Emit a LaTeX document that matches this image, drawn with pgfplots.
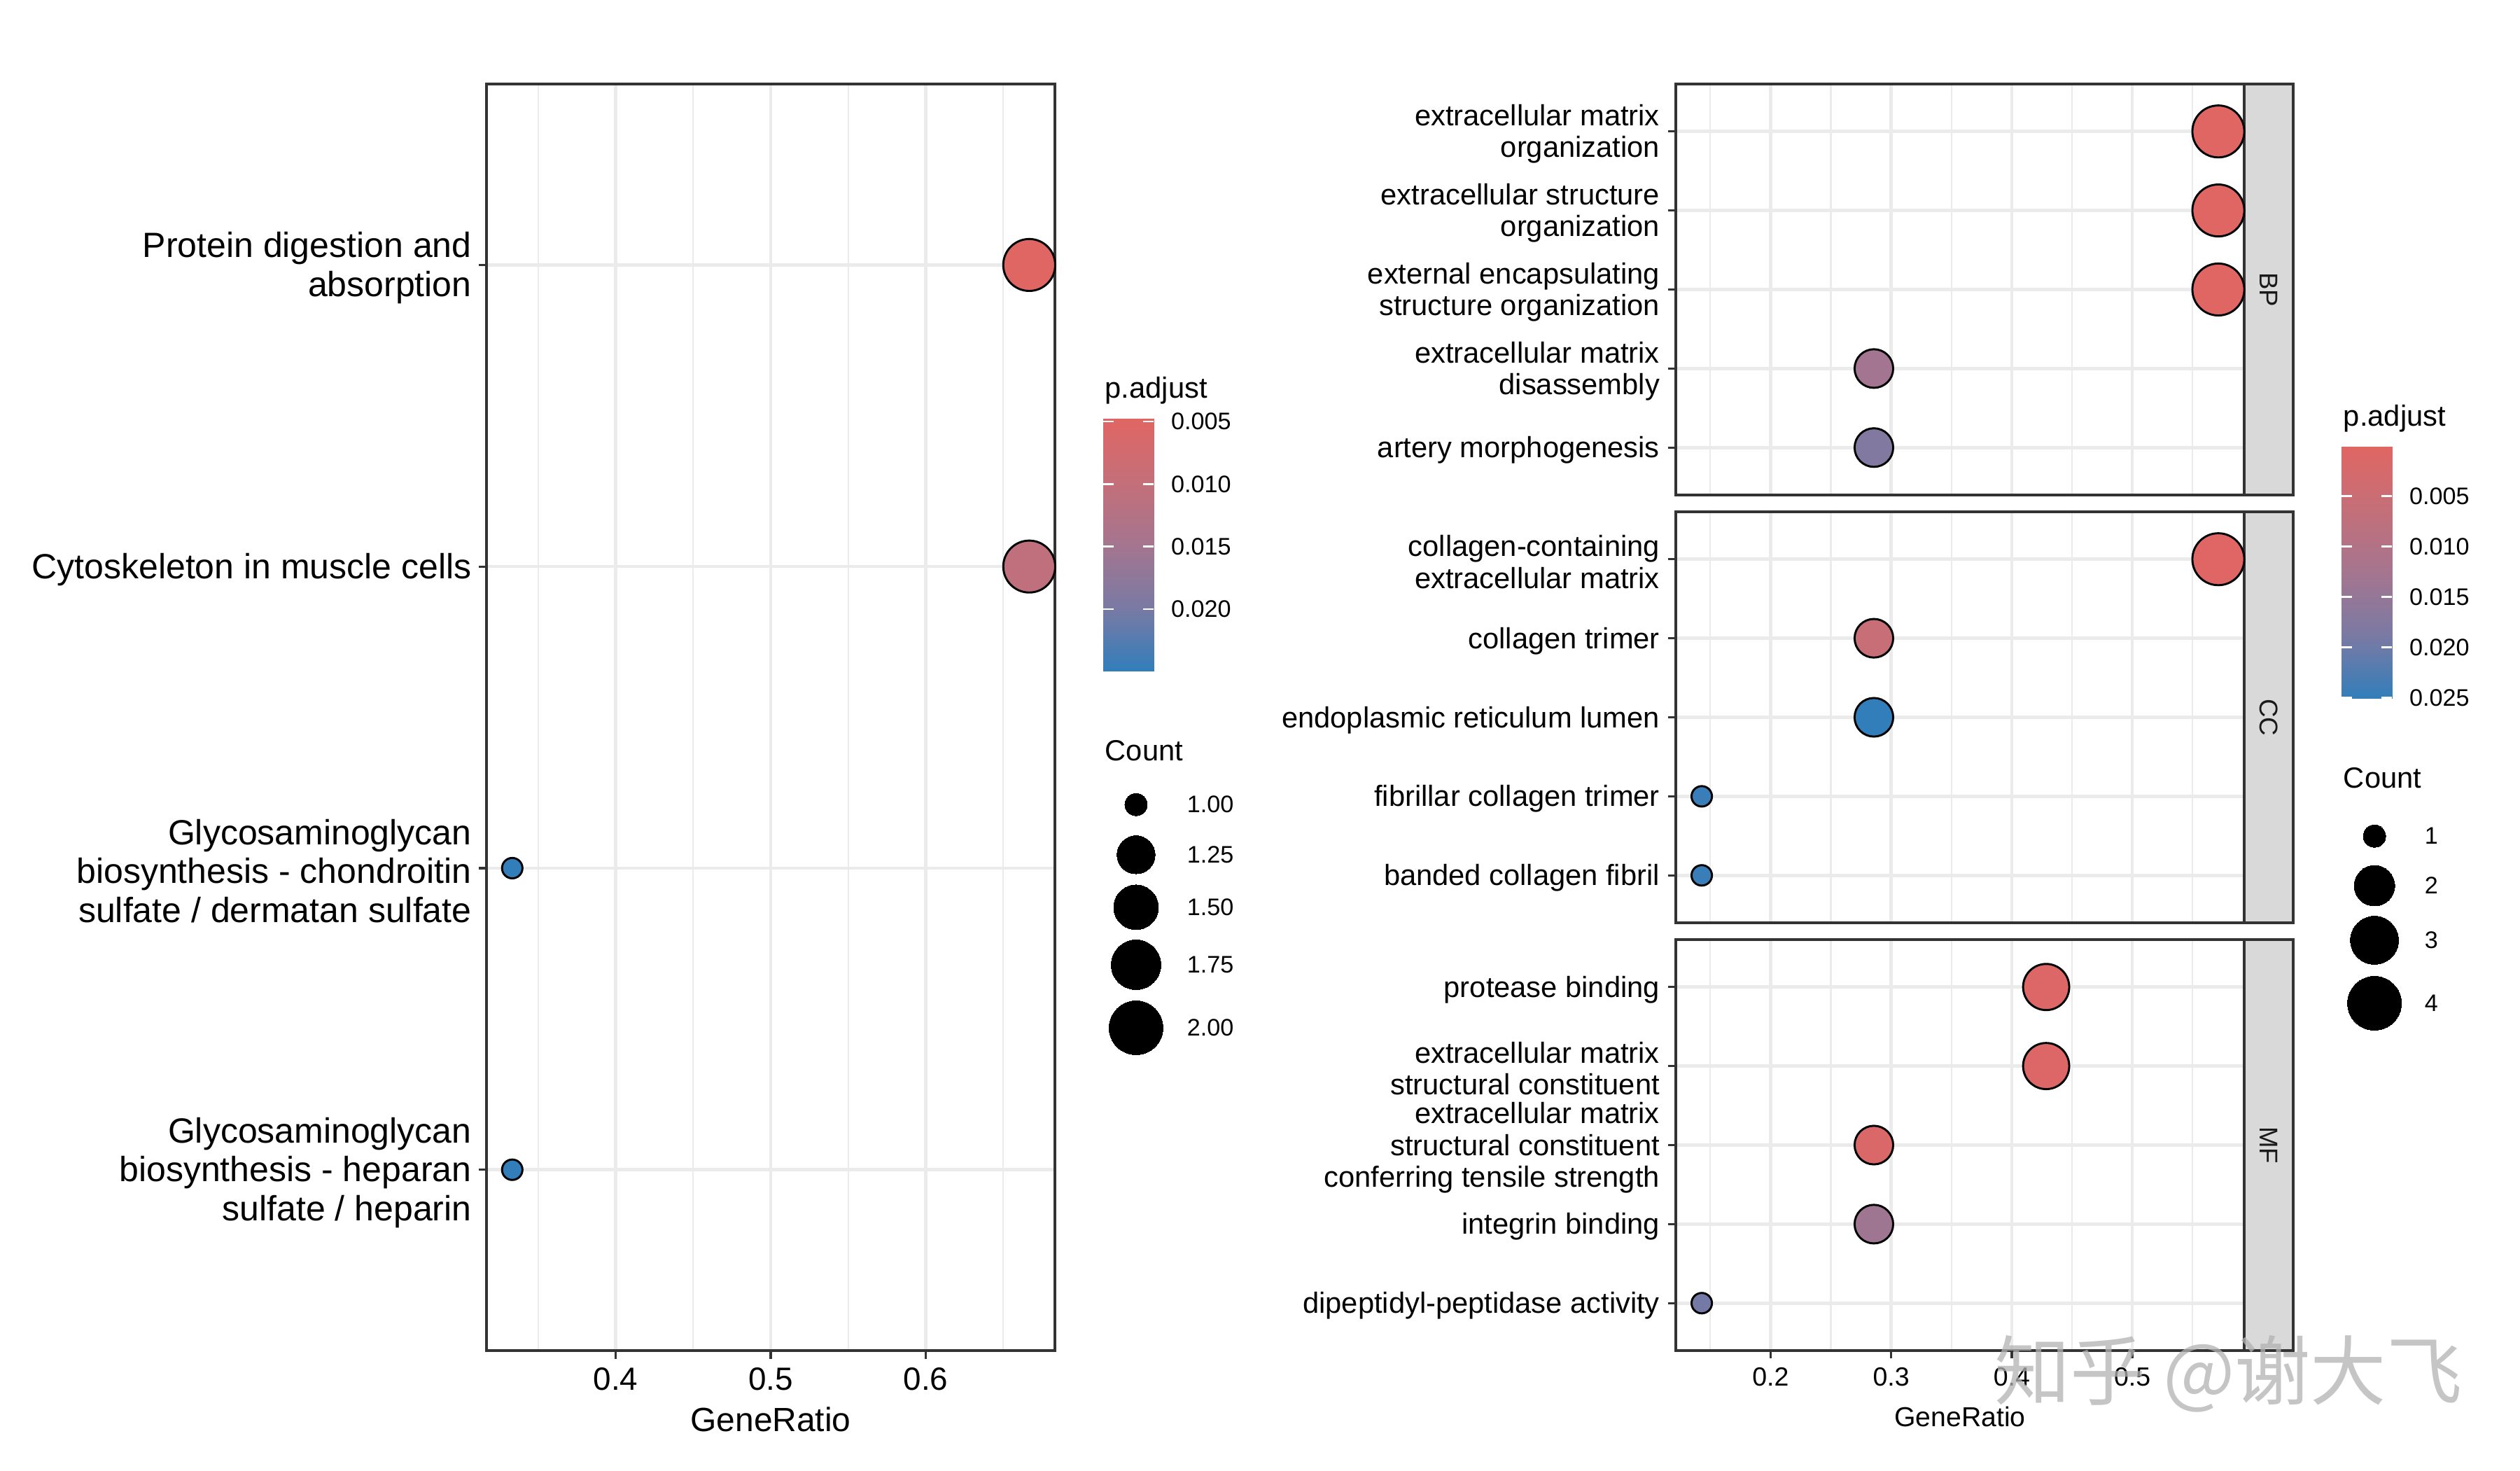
\documentclass[border=0pt]{standalone}
\usepackage{fontspec}
\setmainfont{Liberation Sans}
\newfontfamily\cjk{Noto Sans CJK SC}
\usepackage{pgfplots}
\usepackage{pgfplotstable}
\pgfplotsset{compat=1.18}
\definecolor{grey20}{HTML}{333333}
\definecolor{grey92}{HTML}{EBEBEB}
\definecolor{grey85}{HTML}{D9D9D9}
\definecolor{grey10}{HTML}{1A1A1A}
\pgfplotsset{colormap={padj}{rgb255(0cm)=(224,102,99) rgb255(1cm)=(196,111,121) rgb255(2cm)=(165,117,143) rgb255(3cm)=(122,122,164) rgb255(4cm)=(50,126,186)}}
\newcommand\ylabL{\fontsize{12}{13.3}\selectfont}
\newcommand\ylabR{\fontsize{10}{10.9}\selectfont}
\newcommand\tickL{\fontsize{11}{13}\selectfont}
\newcommand\tickR{\fontsize{9}{11}\selectfont}
\newcommand\legtext{\fontsize{8.2}{10}\selectfont}
\newcommand\legtitle{\fontsize{10}{12}\selectfont}

\pgfplotstableread{
x y count padj
0.6667 4 2 0.00478
0.6667 3 2 0.0105
0.3333 2 1 0.02492
0.3333 1 1 0.02492
}\leftdata
\pgfplotstableread{
x y count padj
0.5714 5 4 0.0001
0.5714 4 4 0.0001
0.5714 3 4 0.0001
0.2857 2 2 0.0128
0.2857 1 2 0.0178
}\bpdata
\pgfplotstableread{
x y count padj
0.5714 5 4 0.0003
0.2857 4 2 0.0055
0.2857 3 2 0.0251
0.1429 2 1 0.0245
0.1429 1 1 0.0245
}\ccdata
\pgfplotstableread{
x y count padj
0.4286 5 3 0.0010
0.4286 4 3 0.0010
0.2857 3 2 0.0015
0.2857 2 2 0.0135
0.1429 1 1 0.0195
}\mfdata
\pgfplotstableread{
x y count
389.5 228.2 1.00
389.5 211.0 1.25
389.5 193.0 1.50
389.5 173.3 1.75
389.5 151.7 2.00
}\leftleg
\pgfplotstableread{
x y count
814.1 217.4 1
814.1 200.4 2
814.1 181.7 3
814.1 160.1 4
}\rightleg

\pgfplotsset{
  dotpanel/.style={
    scale only axis, anchor=north west, clip=false,
    axis line style={draw=grey20, line width=0.8pt},
    tick style={draw=grey20, line width=0.8pt},
    major tick length=2.75pt, minor tick length=0pt, tick align=outside,
    xtick pos=bottom, ytick pos=left,
    grid=both,
    major grid style={draw=grey92, line width=1.1pt},
    minor grid style={draw=grey92, line width=0.55pt},
    colormap name=padj,
    /pgf/number format/assume math mode=true,
  },
  dots/.style={
    scatter, only marks, mark=*, scatter src=explicit,
    visualization depends on={\thisrow{count}\as\cnt},
    scatter/use mapped color={draw=black, fill=mapped color},
    mark options={line width=0.7pt},
  },
  cbar/.style={
    scale only axis, anchor=north west, width=17.28pt, height=86.4pt,
    xmin=0, xmax=1, y dir=reverse, hide x axis, axis on top,
    axis line style={draw=none}, colormap name=padj,
    yticklabel pos=right, ytick pos=both, tick align=inside,
    major tick length=3.5pt, ytick style={draw=white, line width=0.6pt},
    yticklabel style={font=\legtext, inner sep=0pt, xshift=5.8pt},
    scaled y ticks=false,
    /pgf/number format/.cd, fixed, fixed zerofill, precision=3, assume math mode=true,
  },
}

\begin{document}
\begin{tikzpicture}
\useasboundingbox (0,0) rectangle (864pt,504pt);

% ---------------- left panel (KEGG) ----------------
\begin{axis}[dotpanel, at={(166.8pt,475.2pt)}, width=194.9pt, height=434.2pt,
  xmin=0.3167, xmax=0.6833, ymin=0.4, ymax=4.6,
  xtick={0.4,0.5,0.6}, minor xtick={0.35,0.45,0.55,0.65},
  ytick={1,2,3,4},
  yticklabels={{Glycosaminoglycan\\biosynthesis - heparan\\sulfate / heparin},
               {Glycosaminoglycan\\biosynthesis - chondroitin\\sulfate / dermatan sulfate},
               {Cytoskeleton in muscle cells},
               {Protein digestion and\\absorption}},
  yticklabel style={font=\ylabL, align=right, inner sep=0pt, xshift=-2.2pt, yshift=-1pt},
  xticklabel style={font=\tickL, inner sep=0pt, yshift=-3pt},
  xlabel={GeneRatio},
  xlabel style={font=\fontsize{11.5}{13}\selectfont, anchor=center, at={(axis description cs:0.5,0)}, yshift=-23.5pt},
  point meta min=0.00478, point meta max=0.02492,
  ]
\addplot[dots, scatter/@pre marker code/.append style={/tikz/mark size={3.5+5.4*sqrt(\cnt-1)}}]
  table[x=x, y=y, meta=padj]{\leftdata};
\end{axis}

% ---------------- right panels (GO) ----------------
\begin{axis}[dotpanel, at={(574.56pt,475.2pt)}, width=194.88pt, height=140.88pt,
  xmin=0.1214, xmax=0.5929, ymin=0.4, ymax=5.6,
  xtick={0.2,0.3,0.4,0.5}, minor xtick={0.15,0.25,0.35,0.45,0.55},
  xticklabels={}, xtick style={draw=none},
  ytick={1,2,3,4,5},
  yticklabels={{artery morphogenesis},
               {extracellular matrix\\disassembly},
               {external encapsulating\\structure organization},
               {extracellular structure\\organization},
               {extracellular matrix\\organization}},
  yticklabel style={font=\ylabR, align=right, inner sep=0pt, xshift=-2.6pt, yshift=-0.9pt},
  point meta min=0.0001, point meta max=0.0251,
  ]
\draw[fill=grey85, draw=grey20, line width=0.8pt] (rel axis cs:1,0) rectangle ([xshift=16.8pt]rel axis cs:1,1);
\node[rotate=-90, font=\fontsize{8.8}{10}\selectfont, text=grey10] at ([xshift=8.4pt]rel axis cs:1,0.5) {BP};
\addplot[dots, scatter/@pre marker code/.append style={/tikz/mark size={3.5+5.4*sqrt((\cnt-1)/3)}}]
  table[x=x, y=y, meta=padj]{\bpdata};
\end{axis}

\begin{axis}[dotpanel, at={(574.56pt,328.56pt)}, width=194.88pt, height=140.88pt,
  xmin=0.1214, xmax=0.5929, ymin=0.4, ymax=5.6,
  xtick={0.2,0.3,0.4,0.5}, minor xtick={0.15,0.25,0.35,0.45,0.55},
  xticklabels={}, xtick style={draw=none},
  ytick={1,2,3,4,5},
  yticklabels={{banded collagen fibril},
               {fibrillar collagen trimer},
               {endoplasmic reticulum lumen},
               {collagen trimer},
               {collagen-containing\\extracellular matrix}},
  yticklabel style={font=\ylabR, align=right, inner sep=0pt, xshift=-2.6pt, yshift=-0.9pt},
  point meta min=0.0001, point meta max=0.0251,
  ]
\draw[fill=grey85, draw=grey20, line width=0.8pt] (rel axis cs:1,0) rectangle ([xshift=16.8pt]rel axis cs:1,1);
\node[rotate=-90, font=\fontsize{8.8}{10}\selectfont, text=grey10] at ([xshift=8.4pt]rel axis cs:1,0.5) {CC};
\addplot[dots, scatter/@pre marker code/.append style={/tikz/mark size={3.5+5.4*sqrt((\cnt-1)/3)}}]
  table[x=x, y=y, meta=padj]{\ccdata};
\end{axis}

\begin{axis}[dotpanel, at={(574.56pt,181.92pt)}, width=194.88pt, height=140.88pt,
  xmin=0.1214, xmax=0.5929, ymin=0.4, ymax=5.6,
  xtick={0.2,0.3,0.4,0.5}, minor xtick={0.15,0.25,0.35,0.45,0.55},
  xticklabel style={font=\tickR, inner sep=0pt, yshift=-3pt},
  ytick={1,2,3,4,5},
  yticklabels={{dipeptidyl-peptidase activity},
               {integrin binding},
               {extracellular matrix\\structural constituent\\conferring tensile strength},
               {extracellular matrix\\structural constituent},
               {protease binding}},
  yticklabel style={font=\ylabR, align=right, inner sep=0pt, xshift=-2.6pt, yshift=-0.9pt},
  xlabel={GeneRatio},
  xlabel style={font=\fontsize{9.4}{11}\selectfont, anchor=center, at={(axis description cs:0.5,0)}, yshift=-22.6pt},
  point meta min=0.0001, point meta max=0.0251,
  ]
\draw[fill=grey85, draw=grey20, line width=0.8pt] (rel axis cs:1,0) rectangle ([xshift=16.8pt]rel axis cs:1,1);
\node[rotate=-90, font=\fontsize{8.8}{10}\selectfont, text=grey10] at ([xshift=8.4pt]rel axis cs:1,0.5) {MF};
\addplot[dots, scatter/@pre marker code/.append style={/tikz/mark size={3.5+5.4*sqrt((\cnt-1)/3)}}]
  table[x=x, y=y, meta=padj]{\mfdata};
\end{axis}

% ---------------- colour bars ----------------
\begin{axis}[cbar, at={(378.24pt,360.48pt)},
  ymin=0.00478, ymax=0.02492, point meta min=0.00478, point meta max=0.02492,
  ytick={0.005,0.010,0.015,0.020}]
\addplot[surf, shader=interp, point meta=y, mesh/rows=2] coordinates {(0,0.00478) (1,0.00478) (0,0.02492) (1,0.02492)};
\end{axis}

\begin{axis}[cbar, at={(802.8pt,350.9pt)},
  ymin=0.0001, ymax=0.0251, point meta min=0.0001, point meta max=0.0251,
  ytick={0.005,0.010,0.015,0.020,0.025}]
\addplot[surf, shader=interp, point meta=y, mesh/rows=2] coordinates {(0,0.0001) (1,0.0001) (0,0.0251) (1,0.0251)};
\end{axis}

% ---------------- overlay: legends ----------------
\begin{axis}[at={(0pt,0pt)}, anchor=south west, scale only axis, width=864pt, height=504pt,
  xmin=0, xmax=864, ymin=0, ymax=504, hide axis, clip=false]
\addplot[only marks, mark=*, black, mark options={line width=0pt},
  visualization depends on={\thisrow{count}\as\cnt},
  scatter, scatter src=explicit, point meta=\thisrow{count},
  scatter/use mapped color={draw=black, fill=black},
  scatter/@pre marker code/.append style={/tikz/mark size={3.84+5.4*sqrt(\cnt-1)}}]
  table[x=x, y=y]{\leftleg};
\addplot[only marks, mark=*, black, mark options={line width=0pt},
  visualization depends on={\thisrow{count}\as\cnt},
  scatter, scatter src=explicit, point meta=\thisrow{count},
  scatter/use mapped color={draw=black, fill=black},
  scatter/@pre marker code/.append style={/tikz/mark size={3.84+5.4*sqrt((\cnt-1)/3)}}]
  table[x=x, y=y]{\rightleg};
\node[anchor=west, font=\legtitle, inner sep=0pt] at (axis cs:378.7,370.1) {p.adjust};
\node[anchor=west, font=\legtitle, inner sep=0pt] at (axis cs:378.7,246.7) {Count};
\node[anchor=west, font=\legtitle, inner sep=0pt] at (axis cs:803.3,360.5) {p.adjust};
\node[anchor=west, font=\legtitle, inner sep=0pt] at (axis cs:803.3,237.4) {Count};
\node[anchor=west, font=\legtext, inner sep=0pt] at (axis cs:406.8,228.2) {1.00};
\node[anchor=west, font=\legtext, inner sep=0pt] at (axis cs:406.8,211.0) {1.25};
\node[anchor=west, font=\legtext, inner sep=0pt] at (axis cs:406.8,193.0) {1.50};
\node[anchor=west, font=\legtext, inner sep=0pt] at (axis cs:406.8,173.3) {1.75};
\node[anchor=west, font=\legtext, inner sep=0pt] at (axis cs:406.8,151.7) {2.00};
\node[anchor=west, font=\legtext, inner sep=0pt] at (axis cs:831.1,217.4) {1};
\node[anchor=west, font=\legtext, inner sep=0pt] at (axis cs:831.1,200.4) {2};
\node[anchor=west, font=\legtext, inner sep=0pt] at (axis cs:831.1,181.7) {3};
\node[anchor=west, font=\legtext, inner sep=0pt] at (axis cs:831.1,160.1) {4};
\node[font=\cjk\fontsize{26}{26}\selectfont, text=gray!60, opacity=0.75, inner sep=0pt] at (axis cs:764,33) {知乎 @谢大飞};
\end{axis}
\end{tikzpicture}
\end{document}
